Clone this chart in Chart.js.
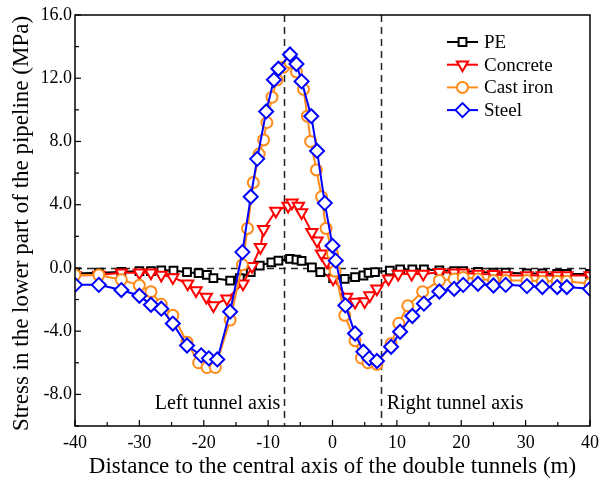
<!DOCTYPE html>
<html>
<head>
<meta charset="utf-8">
<title>Pipeline stress</title>
<script src="https://cdn.jsdelivr.net/npm/chart.js@4/dist/chart.umd.min.js"></script>
<style>
  html, body { margin: 0; padding: 0; background: #fff; }
  #wrap { width: 611px; height: 482px; position: relative; }
</style>
</head>
<body>
<div id="wrap"><canvas id="chart"></canvas></div>
<script>
// Values
const peX = [-40, -36.3, -32.8, -30, -28.2, -26.6, -24.7, -22.6, -20.8, -19.5, -18.5, -15.9, -14.4, -12.7, -11.3, -9.5, -8.4, -6.6, -5.6, -4.8, -3.2, -1.9, 0.1, 1.9, 3.5, 4.8, 5.6, 6.6, 8.9, 10.5, 12.4, 14.2, 16.6, 18.9, 20.3, 22.6, 25, 26.9, 30.2, 32.6, 34.9, 36.4, 40];
const peY = [-0.35, -0.3, -0.25, -0.2, -0.2, -0.15, -0.17, -0.27, -0.33, -0.44, -0.65, -0.8, -0.65, -0.27, 0.15, 0.35, 0.46, 0.57, 0.52, 0.45, 0.04, -0.27, -0.65, -0.69, -0.58, -0.48, -0.31, -0.27, -0.17, -0.1, -0.1, -0.1, -0.15, -0.2, -0.2, -0.25, -0.3, -0.3, -0.35, -0.35, -0.38, -0.38, -0.38];

const concreteX = [-40, -36.3, -32.8, -30, -28.2, -26.6, -24.8, -22.5, -21.2, -19.6, -18.5, -16.4, -13.9, -12.5, -11.2, -10.7, -8.8, -6.9, -6.3, -5.3, -4.8, -3.2, -2.4, -1.7, -0.9, 0.1, 2.2, 3.5, 5.0, 5.8, 6.9, 8.7, 10.2, 12.3, 14.1, 16.6, 18.9, 20.3, 22.6, 25, 27, 30.2, 32.6, 34.9, 36.4, 40];
const concreteY = [-0.48, -0.45, -0.3, -0.31, -0.31, -0.44, -0.6, -1.0, -1.43, -1.84, -2.37, -1.95, -1.0, 0.1, 1.3, 2.45, 3.6, 3.92, 4.13, 3.92, 3.5, 2.25, 1.72, 0.9, 0.4, -0.69, -1.84, -2.16, -2.12, -1.74, -1.32, -0.69, -0.38, -0.38, -0.38, -0.27, -0.3, -0.3, -0.38, -0.4, -0.48, -0.48, -0.48, -0.48, -0.48, -0.48];

const castIronX = [-40, -36.3, -32.8, -30, -28.2, -26.6, -24.8, -22.6, -20.8, -19.5, -18.2, -15.9, -14, -13.2, -12.3, -11.4, -10.7, -10.2, -9.4, -8.6, -7.6, -6.6, -5.6, -4.5, -3.9, -3.4, -2.5, -1.7, -1, 0, 0.4, 1.9, 3.5, 4.5, 5.5, 6.9, 9.1, 10.3, 11.7, 14, 16.6, 18.9, 20.3, 22.6, 25, 26.9, 30.2, 32.6, 34.9, 36.4, 40];
const castIronY = [-0.44, -0.45, -0.75, -1.1, -1.5, -2.3, -3.0, -4.7, -6.0, -6.3, -6.3, -3.3, 0.2, 2.5, 5.4, 7.2, 8.1, 9.2, 10.8, 11.9, 12.7, 13.0, 12.4, 11.3, 9.6, 8.0, 6.2, 4.5, 2.5, 0.9, -0.2, -3.0, -4.6, -5.7, -6.0, -6.1, -4.8, -3.5, -2.4, -1.5, -0.8, -0.7, -0.6, -0.7, -0.8, -0.8, -0.8, -0.85, -0.85, -0.85, -1.0];

const steelX = [-40, -36.3, -32.8, -30, -28.2, -26.6, -24.8, -22.6, -20.4, -19.2, -17.9, -15.9, -14, -12.7, -11.7, -10.3, -9.1, -8.4, -6.6, -5.6, -4.8, -3.3, -2.4, -1.2, 0, 0.5, 2, 3.5, 4.8, 5.7, 6.9, 9.1, 10.5, 12.4, 14.2, 16.6, 18.9, 20.3, 22.6, 25, 26.9, 30.2, 32.6, 34.9, 36.4, 40];
const steelY = [-1.07, -1.07, -1.4, -1.76, -2.33, -2.58, -3.52, -4.91, -5.53, -5.72, -5.79, -2.77, 1.0, 4.5, 6.9, 9.9, 11.9, 12.6, 13.5, 12.9, 11.8, 9.6, 7.4, 4.1, 1.4, 0.46, -2.37, -4.15, -5.3, -5.72, -5.89, -4.99, -4.04, -3.04, -2.26, -1.49, -1.32, -1.07, -1.0, -1.11, -1.07, -1.15, -1.21, -1.21, -1.21, -1.32];

const seriesNames = ['PE', 'Concrete', 'Cast iron', 'Steel'];
const xTicks = [-40, -30, -20, -10, 0, 10, 20, 30, 40];
const yTicks = [-8, -4, 0, 4, 8, 12, 16];
const tunnelAxes = [-7.5, 7.5];
const tunnelLabels = ['Left tunnel axis', 'Right tunnel axis'];
const xTitle = 'Distance to the central axis of the double tunnels (m)';
const yTitle = 'Stress in the lower part of the pipeline (MPa)';

const SERIF = "'Liberation Serif', 'Times New Roman', serif";

function pairs(xs, ys) {
  return xs.map((x, i) => ({ x: x, y: ys[i] }));
}

function series(label, xs, ys, color, style, radius, rotation, order) {
  return {
    label,
    data: pairs(xs, ys),
    borderColor: color,
    backgroundColor: '#fff',
    pointBorderColor: color,
    pointBackgroundColor: '#fff',
    pointStyle: style,
    pointRadius: radius,
    pointRotation: rotation,
    pointBorderWidth: 2,
    borderWidth: 2,
    tension: 0,
    order
  };
}

// dashed reference lines, inward ticks, frame, text, legend
const decorations = {
  id: 'decorations',
  beforeDatasetsDraw(chart) {
    const { ctx, chartArea: a, scales: { x, y } } = chart;
    ctx.save();
    ctx.strokeStyle = '#222';
    ctx.lineWidth = 1.5;
    ctx.setLineDash([7, 5]);
    tunnelAxes.forEach(v => {
      const px = Math.round(x.getPixelForValue(v)) + 0.5;
      ctx.beginPath();
      ctx.moveTo(px, a.top);
      ctx.lineTo(px, a.bottom);
      ctx.stroke();
    });
    const py0 = Math.round(y.getPixelForValue(0)) + 0.5;
    ctx.beginPath();
    ctx.moveTo(a.left, py0);
    ctx.lineTo(a.right, py0);
    ctx.stroke();
    ctx.restore();
  },
  afterDraw(chart) {
    const { ctx, chartArea: a, scales: { x, y } } = chart;
    ctx.save();
    // frame
    ctx.strokeStyle = '#000';
    ctx.lineWidth = 1.5;
    ctx.setLineDash([]);
    ctx.strokeRect(a.left, a.top, a.right - a.left, a.bottom - a.top);

    // inward ticks
    ctx.lineWidth = 1.2;
    for (let v = -40; v <= 40; v += 5) {
      const px = x.getPixelForValue(v);
      const len = v % 10 === 0 ? 6 : 4;
      ctx.beginPath();
      ctx.moveTo(px, a.bottom);
      ctx.lineTo(px, a.bottom - len);
      ctx.stroke();
    }
    for (let v = -10; v <= 16; v += 2) {
      const py = y.getPixelForValue(v);
      const len = v % 4 === 0 ? 6 : 4;
      ctx.beginPath();
      ctx.moveTo(a.left, py);
      ctx.lineTo(a.left + len, py);
      ctx.stroke();
    }

    // tunnel axis labels
    ctx.fillStyle = '#000';
    ctx.font = '20px ' + SERIF;
    ctx.textBaseline = 'middle';
    ctx.textAlign = 'right';
    ctx.fillText(tunnelLabels[0], x.getPixelForValue(tunnelAxes[0]) - 4, 404);
    ctx.textAlign = 'left';
    ctx.fillText(tunnelLabels[1], x.getPixelForValue(tunnelAxes[1]) + 6, 404);

    // axis titles
    ctx.font = '23px ' + SERIF;
    ctx.textAlign = 'center';
    ctx.fillText(xTitle, (a.left + a.right) / 2, 467);
    ctx.save();
    ctx.translate(22, (a.top + a.bottom) / 2 + 3);
    ctx.rotate(-Math.PI / 2);
    ctx.fillText(yTitle, 0, 0);
    ctx.restore();

    // legend
    ctx.font = '19px ' + SERIF;
    ctx.textAlign = 'left';
    chart.data.datasets.forEach((ds, i) => {
      const ry = 42 + i * 22.7;
      ctx.strokeStyle = ds.borderColor;
      ctx.lineWidth = 2;
      ctx.beginPath();
      ctx.moveTo(447, ry);
      ctx.lineTo(478, ry);
      ctx.stroke();
      ctx.fillStyle = '#fff';
      Chart.helpers.drawPoint(ctx, {
        pointStyle: ds.pointStyle,
        radius: ds.pointRadius,
        rotation: ds.pointRotation,
        borderWidth: 2
      }, 462.5, ry);
      ctx.fillStyle = '#000';
      ctx.fillText(ds.label, 484, ry + 1);
    });
    ctx.restore();
  }
};

new Chart(document.getElementById('chart').getContext('2d'), {
  type: 'line',
  data: {
    datasets: [
      series(seriesNames[0], peX, peY, '#000000', 'rect', 5.5, 0, 4),
      series(seriesNames[1], concreteX, concreteY, '#ff0000', 'triangle', 6.5, 180, 3),
      series(seriesNames[2], castIronX, castIronY, '#ff8c1a', 'circle', 5.5, 0, 2),
      series(seriesNames[3], steelX, steelY, '#0000ff', 'rectRot', 7, 0, 1)
    ]
  },
  options: {
    responsive: true,
    maintainAspectRatio: false,
    animation: false,
    layout: { padding: { top: 15, right: 21, left: 0, bottom: 0 } },
    plugins: {
      legend: { display: false },
      tooltip: { enabled: false }
    },
    scales: {
      x: {
        type: 'linear',
        min: -40,
        max: 40,
        afterFit(s) { s.height = 56; },
        afterBuildTicks(s) { s.ticks = xTicks.map(v => ({ value: v })); },
        grid: { display: false, drawTicks: false },
        border: { display: false },
        ticks: {
          padding: 6,
          color: '#000',
          font: { family: SERIF, size: 18 },
          maxRotation: 0,
          callback: v => String(v)
        }
      },
      y: {
        min: -10,
        max: 16,
        afterFit(s) { s.width = 75; },
        afterBuildTicks(s) { s.ticks = yTicks.map(v => ({ value: v })); },
        grid: { display: false, drawTicks: false },
        border: { display: false },
        ticks: {
          padding: 3,
          color: '#000',
          font: { family: SERIF, size: 18 },
          callback: v => v.toFixed(1)
        }
      }
    }
  },
  plugins: [decorations]
});
</script>
</body>
</html>
